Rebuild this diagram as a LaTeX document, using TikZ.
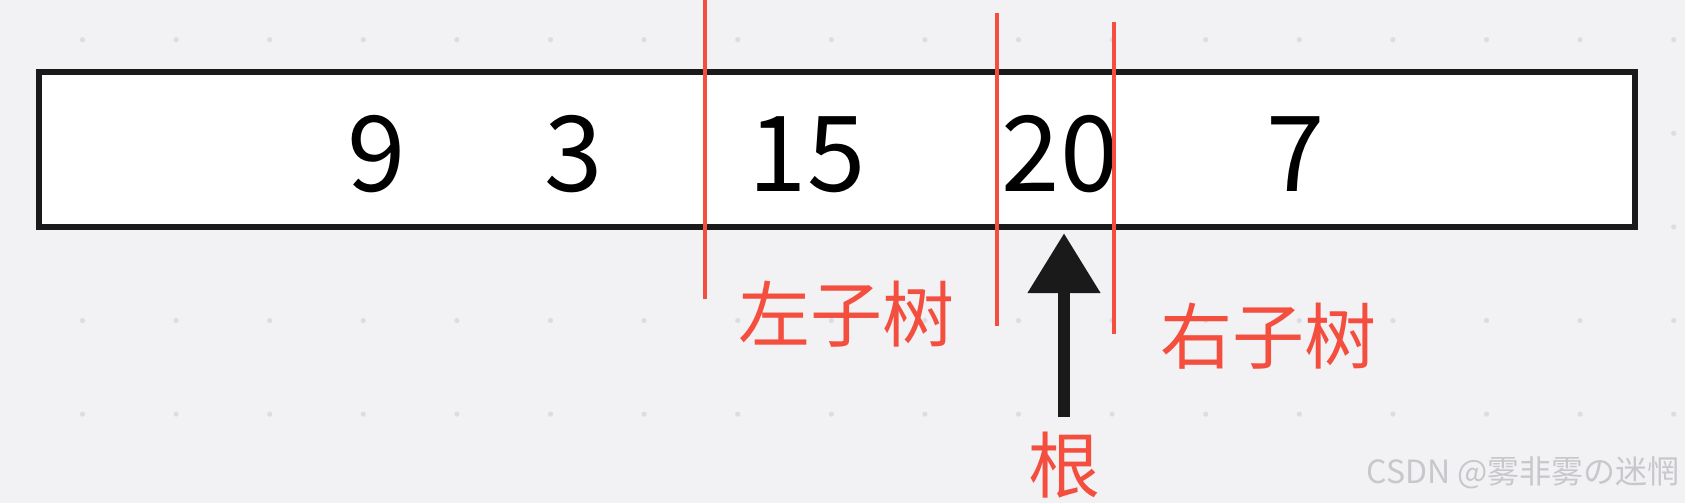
\documentclass[tikz,border=0pt]{standalone}
\usepackage{fontspec}
\setmainfont{Noto Sans CJK SC}
\usetikzlibrary{arrows.meta, positioning}
\definecolor{paper}{RGB}{242,242,245}
\definecolor{griddot}{RGB}{221,221,225}
\definecolor{cutred}{RGB}{244,78,62}
\definecolor{inkblack}{RGB}{26,26,26}
\definecolor{wmgray}{RGB}{200,200,204}
\tikzset{
  x=1pt, y=-1pt,
  cell/.style={draw=inkblack, fill=white, line width=6.3pt, minimum width=1596pt, minimum height=155.3pt, inner sep=0pt},
  num/.style={anchor=base, inner sep=0pt, font=\fontsize{105}{110}\selectfont},
  cut/.style={cutred, line width=4pt},
  lbl/.style={anchor=base, inner sep=0pt, text=cutred, font=\fontsize{72}{80}\selectfont},
  rootpto/.style={-{Triangle[width=70pt,length=60pt]}, line width=12pt, inkblack, shorten <=14pt, shorten >=3pt},
  wmark/.style={anchor=base east, inner sep=0pt, text=wmgray, font=\fontsize{32}{36}\selectfont}
}
\begin{document}
\begin{tikzpicture}
  \fill[paper] (0,0) rectangle (1685,503);
  \useasboundingbox (0,0) rectangle (1685,503);
  \foreach \gx in {0,...,17}
    \foreach \gy in {0,...,4}
      \fill[griddot] ({82.5+93.6*\gx},{39.7+93.6*\gy}) circle (2.6pt);

  % the array
  \node[cell] (arr) at (837,149.4) {};
  \node[num] (n9) at (377,191) {9};
  \node[num] (n3) at (574,191) {3};
  \node[num] (n15) at (807,191) {15};
  \node[num] (n20) at (1060,191) {20};
  \node[num] (n7) at (1296,191) {7};

  % splits
  \draw[cut] (704.5,0) -- (704.5,299);
  \draw[cut] (997,13.3) -- (997,325.7);
  \draw[cut] (1113.8,22.3) -- (1113.8,334.3);

  \node[lbl] (lefttree) at (846,341) {左子树};
  \node[lbl] (righttree) at (1268,363) {右子树};
  \node[lbl] (rootlbl) at (1064,492) {根};

  \draw[rootpto] (rootlbl.north) -- (rootlbl.north |- arr.south);

  \node[wmark] (wm) at (1680,483) {CSDN @雾非雾の迷惘};
\end{tikzpicture}
\end{document}
